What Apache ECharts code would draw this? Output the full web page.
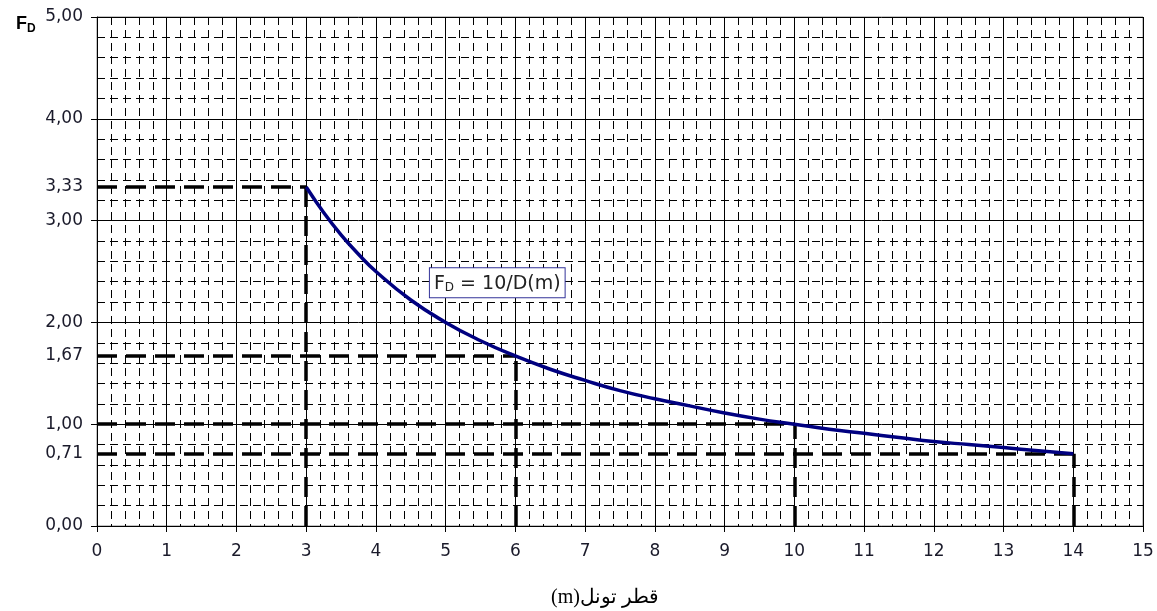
<!DOCTYPE html>
<html>
<head>
<meta charset="utf-8">
<title>F_D = 10/D</title>
<script src="https://cdn.jsdelivr.net/npm/echarts@6/dist/echarts.min.js"></script>
<style>
	html, body { margin: 0; padding: 0; background: #fff; }
	#chart { width: 1157px; height: 611px; }
</style>
</head>
<body>
<div id="chart"></div>
<script>
	// curve F_D = 10/D
	var tunnelD = [3, 3.25, 3.5, 3.75, 4, 4.5, 5, 5.5, 6, 6.5, 7, 7.5, 8, 8.5, 9, 9.5, 10, 10.5, 11, 11.5, 12, 12.5, 13, 13.5, 14];
	var factorF = [3.33, 3.08, 2.86, 2.67, 2.50, 2.22, 2.00, 1.82, 1.67, 1.54, 1.43, 1.33, 1.25, 1.18, 1.11, 1.05, 1.00, 0.95, 0.91, 0.87, 0.83, 0.80, 0.77, 0.74, 0.71];

	// the dashed reading lines
	var refD = [3, 6, 10, 14];
	var refF = [3.33, 1.67, 1.00, 0.71];

	// tick labels
	var yLabelValues = [0, 0.71, 1, 1.67, 2, 3, 3.33, 4, 5];
	var yTickValues = [0, 1, 2, 3, 4, 5];

	var xName = '(m)قطر تونل';
	var boxText = '{f|F}{d|D}{f| = 10/D(m)}';

	var curveData = [];
	for (var i = 0; i < tunnelD.length; i++) {
		curveData.push([tunnelD[i], factorF[i]]);
	}

	var refLines = [];
	for (var j = 0; j < refD.length; j++) {
		refLines.push([{ coord: [0, refF[j]] }, { coord: [refD[j], refF[j]] }]);
		refLines.push([{ coord: [refD[j], 0] }, { coord: [refD[j], refF[j]] }]);
	}

	function comma(v) {
		return v.toFixed(2).replace('.', ',');
	}

	var labelFont = 'DejaVu Sans';

	var chart = echarts.init(document.getElementById('chart'), null, { renderer: 'canvas' });
	chart.setOption({
		animation: false,
		textStyle: { fontFamily: labelFont },
		title: {
			left: 11,
			top: 9,
			text: '{f|F}{d|D}',
			textStyle: {
				rich: {
					f: { fontSize: 18, fontWeight: 'bold', color: '#000', fontFamily: 'Liberation Sans' },
					d: { fontSize: 12, fontWeight: 'bold', color: '#000', fontFamily: 'Liberation Sans', verticalAlign: 'bottom', padding: [9, 0, 0, 0] }
				}
			}
		},
		grid: {
			left: 97,
			right: 14,
			top: 17,
			bottom: 85,
			outerBoundsMode: 'none',
			containLabel: false,
			show: true,
			borderColor: '#888',
			borderWidth: 1
		},
		xAxis: {
			type: 'value',
			min: 0,
			max: 15,
			interval: 1,
			name: xName,
			nameLocation: 'middle',
			nameGap: 62,
			nameTextStyle: { fontFamily: 'Liberation Serif', fontSize: 20, color: '#000', padding: [0, 30, 0, 0] },
			axisLine: { lineStyle: { color: '#000', width: 1 } },
			axisTick: { show: true, length: 6, lineStyle: { color: '#000' } },
			axisLabel: { color: '#1a1a2a', fontSize: 17, margin: 17 },
			splitLine: { show: true, lineStyle: { color: '#000', width: 1 } },
			minorTick: { show: false, splitNumber: 5 },
			minorSplitLine: { show: true, lineStyle: { color: '#000', width: 1, type: [8, 5] } }
		},
		yAxis: {
			type: 'value',
			min: 0,
			max: 5,
			interval: 1,
			axisLine: { show: true, lineStyle: { color: '#000', width: 1 } },
			axisTick: { show: true, length: 6, customValues: yTickValues, lineStyle: { color: '#000' } },
			axisLabel: {
				color: '#1a1a2a',
				fontSize: 17,
				margin: 14,
				padding: [3, 0, 0, 0],
				customValues: yLabelValues,
				formatter: function (v) { return comma(v); }
			},
			splitLine: { show: true, lineStyle: { color: '#000', width: 1 } },
			minorTick: { show: false, splitNumber: 5 },
			minorSplitLine: { show: true, lineStyle: { color: '#000', width: 1, type: [8, 5] } }
		},
		series: [{
			type: 'line',
			data: curveData,
			smooth: true,
			showSymbol: false,
			lineStyle: { color: '#000080', width: 3.5 },
			z: 5,
			markLine: {
				silent: true,
				symbol: 'none',
				label: { show: false },
				lineStyle: { color: '#000', width: 3.5, type: [20, 9] },
				data: refLines,
				z: 4
			},
			markPoint: {
				silent: true,
				symbol: 'rect',
				symbolSize: 0,
				data: [{ coord: [5.74, 2.39] }],
				label: {
					show: true,
					position: 'inside',
					formatter: boxText,
					backgroundColor: '#fff',
					borderColor: '#333399',
					borderWidth: 1,
					padding: [5, 4, 3, 4],
					rich: {
						f: { fontSize: 19, color: '#222', fontFamily: labelFont },
						d: { fontSize: 12, color: '#222', fontFamily: labelFont, verticalAlign: 'bottom', padding: [9, 0, 0, 0] }
					}
				}
			}
		}]
	});
</script>
</body>
</html>
